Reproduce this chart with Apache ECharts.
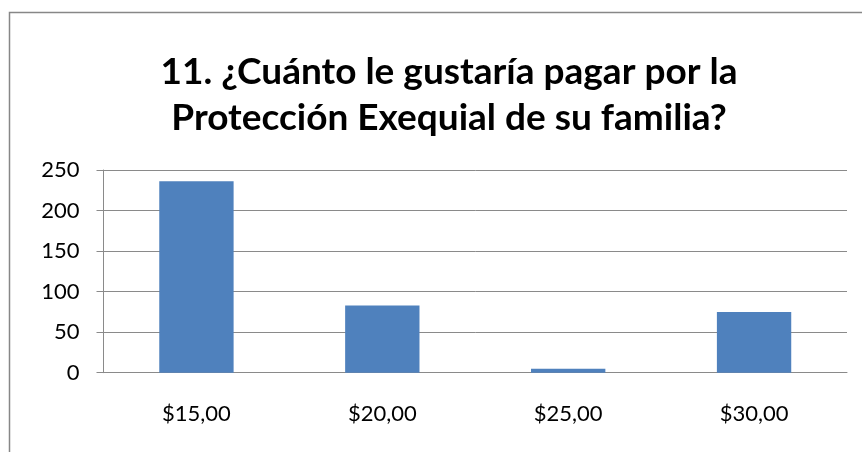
<!DOCTYPE html>
<html>
<head>
<meta charset="utf-8">
<script src="https://cdn.jsdelivr.net/npm/echarts@6/dist/echarts.min.js"></script>
<style>
html,body{margin:0;padding:0;background:#fff;}
#chart{width:862px;height:452px;}
</style>
</head>
<body>
<div id="chart"></div>
<script>
var titleText = '11. ¿Cuánto le gustaría pagar por la\nProtección Exequial de su familia?';
var categories = ['$15,00', '$20,00', '$25,00', '$30,00'];
var values = [236, 83, 5, 75];
var yTicks = [0, 50, 100, 150, 200, 250];

var chart = echarts.init(document.getElementById('chart'), null, {renderer: 'canvas'});
var FONT = 'Lato, "Open Sans", sans-serif';
chart.setOption({
  animation: false,
  backgroundColor: '#ffffff',
  graphic: [{
    type: 'rect',
    shape: {x: 9.5, y: 12.5, width: 900, height: 500},
    style: {fill: 'none', stroke: '#878787', lineWidth: 1.5},
    silent: true
  }],
  title: {
    text: titleText,
    left: 444,
    textAlign: 'center',
    top: 44,
    textStyle: {
      fontFamily: FONT,
      fontWeight: 'bold',
      fontSize: 37,
      lineHeight: 46,
      color: '#000000'
    }
  },
  grid: {left: 103.5, right: 15, top: 170, bottom: 79.3, containLabel: false},
  xAxis: {
    type: 'category',
    data: categories,
    axisTick: {show: false},
    axisLine: {show: true, lineStyle: {color: '#8a8a8a', width: 1}},
    axisLabel: {fontFamily: FONT, fontSize: 22, color: '#000000', margin: 30}
  },
  yAxis: {
    type: 'value',
    min: yTicks[0],
    max: yTicks[yTicks.length - 1],
    interval: 50,
    axisLine: {show: true, lineStyle: {color: '#8a8a8a', width: 1}},
    axisTick: {show: true, inside: false, length: 7, lineStyle: {color: '#8a8a8a'}},
    splitLine: {show: true, lineStyle: {color: '#8a8a8a', width: 1}},
    axisLabel: {fontFamily: FONT, fontSize: 22, color: '#000000', margin: 24}
  },
  series: [{
    type: 'bar',
    data: values,
    barWidth: '40%',
    itemStyle: {color: '#4f81bd'}
  }]
});
</script>
</body>
</html>
